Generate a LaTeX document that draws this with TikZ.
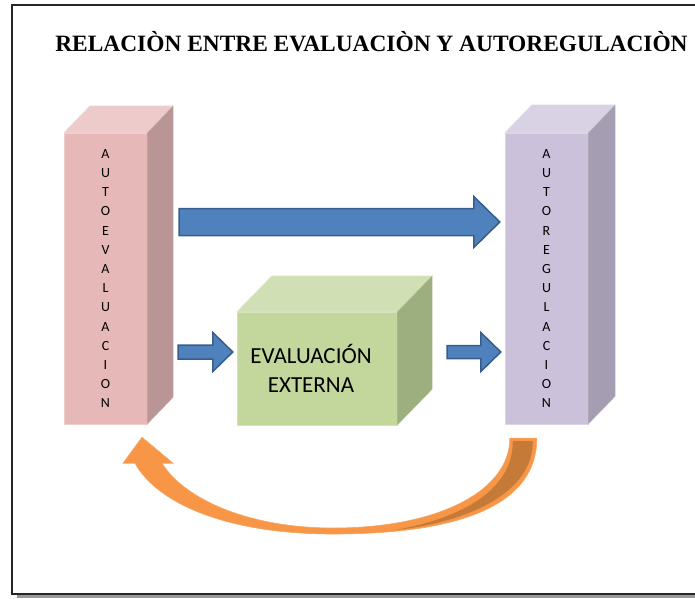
\documentclass[tikz,border=0pt]{standalone}
\usepackage{fontspec}
\setmainfont{Carlito}
\newfontfamily\titlefont{Liberation Serif}
\usetikzlibrary{calc,positioning}
\usepackage{xcolor}
\definecolor{pinkfront}{HTML}{E6B9B8}
\definecolor{pinktop}{HTML}{EDCBCA}
\definecolor{pinkside}{HTML}{B99695}
\definecolor{lilafront}{HTML}{CCC1DA}
\definecolor{lilatop}{HTML}{D9D2E4}
\definecolor{lilaside}{HTML}{A59DB1}
\definecolor{greenfront}{HTML}{C3D69B}
\definecolor{greentop}{HTML}{D1E0B4}
\definecolor{greenside}{HTML}{9DAF7E}
\definecolor{arrblue}{HTML}{4F81BD}
\definecolor{arrborder}{HTML}{385D8A}
\definecolor{fborange}{HTML}{F79646}
\definecolor{fbdark}{HTML}{C57A38}
\newcommand{\pillarw}{83pt}
\newcommand{\pillarh}{291pt}
\tikzset{
    framesty/.style={draw=black!85,line width=1.5pt},
    shadowsty/.style={draw=black!40,line width=2.5pt},
    titlesty/.style={font=\titlefont\bfseries\fontsize{23.4}{27}\selectfont,anchor=base},
    pillarsty/.style={rectangle,minimum width=\pillarw,minimum height=\pillarh,inner sep=0pt,align=center,font=\fontsize{14}{19.2}\selectfont},
    boxsty/.style={rectangle,minimum width=160pt,minimum height=113pt,inner sep=0pt,align=center,font=\fontsize{23}{29}\selectfont},
    arrsty/.style={fill=arrblue,draw=arrborder,line width=1.5pt,line join=miter},
    fbsty/.style={fill=fborange,draw=fborange!85!white,line width=0.6pt},
    fbdarksty/.style={fill=fbdark},
}
% front face node, then top and side faces
\newcommand{\cubefaces}[5]{%
  \fill[#4,draw=#4!70!white] (#1.north west) -- ++(#2,#3) -- ($(#1.north east)+(#2,#3)$) -- (#1.north east) -- cycle;
  \fill[#5,draw=#5!70!white] (#1.north east) -- ++(#2,#3) -- ($(#1.south east)+(#2,#3)$) -- (#1.south east) -- cycle;
}
% start, tip, shaft half width, head half width, head length
\newcommand{\blockarrow}[5]{%
  \path (#1) coordinate (as) (#2) coordinate (ae);
  \draw[arrsty] ($(as)+(0,#3)$) -- ($(ae)+(-#5,#3)$) -- ($(ae)+(-#5,#4)$) -- (ae)
    -- ($(ae)+(-#5,-#4)$) -- ($(ae)+(-#5,-#3)$) -- ($(as)+(0,-#3)$) -- cycle;
}

\begin{document}
\begin{tikzpicture}[x=1pt,y=-1pt]
\useasboundingbox (0,0) rectangle (695,598);

% frame
\draw[shadowsty] (17,596.5) -- (695,596.5);
\draw[framesty] (695,5) -- (12,5) -- (12,594) -- (695,594);

\node[titlesty] (title) at (371.5,51) {RELACIÒN ENTRE EVALUACIÒN Y AUTOREGULACIÒN};

\node[pillarsty,fill=pinkfront,draw=pinkfront!70!white] (autoev) at (105.5,278.5)
  {A\\U\\T\\O\\E\\V\\A\\L\\U\\A\\C\\I\\O\\N};
\cubefaces{autoev}{26}{-27}{pinktop}{pinkside}

\node[pillarsty,fill=lilafront,draw=lilafront!70!white] (autoreg) at (546.5,278.5)
  {A\\U\\T\\O\\R\\E\\G\\U\\L\\A\\C\\I\\O\\N};
\cubefaces{autoreg}{27}{-28}{lilatop}{lilaside}

\node[boxsty,fill=greenfront,draw=greenfront!70!white] (exter) at (317,368.5)
  {EVALUACIÓN\hspace*{12pt}\\EXTERNA\hspace*{12pt}};
\cubefaces{exter}{35}{-36}{greentop}{greenside}

\coordinate (toprow) at (0,222);
\coordinate (midrow) at (0,352);

\blockarrow{$(autoev.east |- toprow)+(32,0)$}{$(autoreg.west |- toprow)+(-5,0)$}{13.5}{25.5}{26}
\blockarrow{$(autoev.east |- midrow)+(31,0)$}{$(exter.west |- midrow)+(-4,0)$}{7}{19.5}{20}
\blockarrow{$(exter.east |- midrow)+(50,0)$}{$(autoreg.west |- midrow)+(-4,0)$}{6.5}{19.5}{20}

% feedback arrow
\coordinate (fbtail) at ($(autoreg.south west)+(5,14)$);
\coordinate (fbtip) at ($(autoev.south)+(36.5,13)$);
\draw[fbsty] ($(fbtail)+(27,0)$) .. controls (537,505) and (460,534) .. (333,534)
  .. controls (220,534) and (155,500) .. ($(fbtip)+(-7,26)$)
  -- ($(fbtip)+(-19,26)$) -- (fbtip) -- ($(fbtip)+(31,26)$) -- ($(fbtip)+(20,26)$)
  .. controls (185,500) and (250,528) .. (333,528)
  .. controls (440,528) and (510,490) .. (fbtail) -- cycle;
\fill[fbdarksty] ($(fbtail)+(23,3)$) .. controls (533,492) and (470,522) .. (395,530)
  .. controls (462,518) and (513,490) .. ($(fbtail)+(3,3)$) -- cycle;
\end{tikzpicture}
\end{document}
